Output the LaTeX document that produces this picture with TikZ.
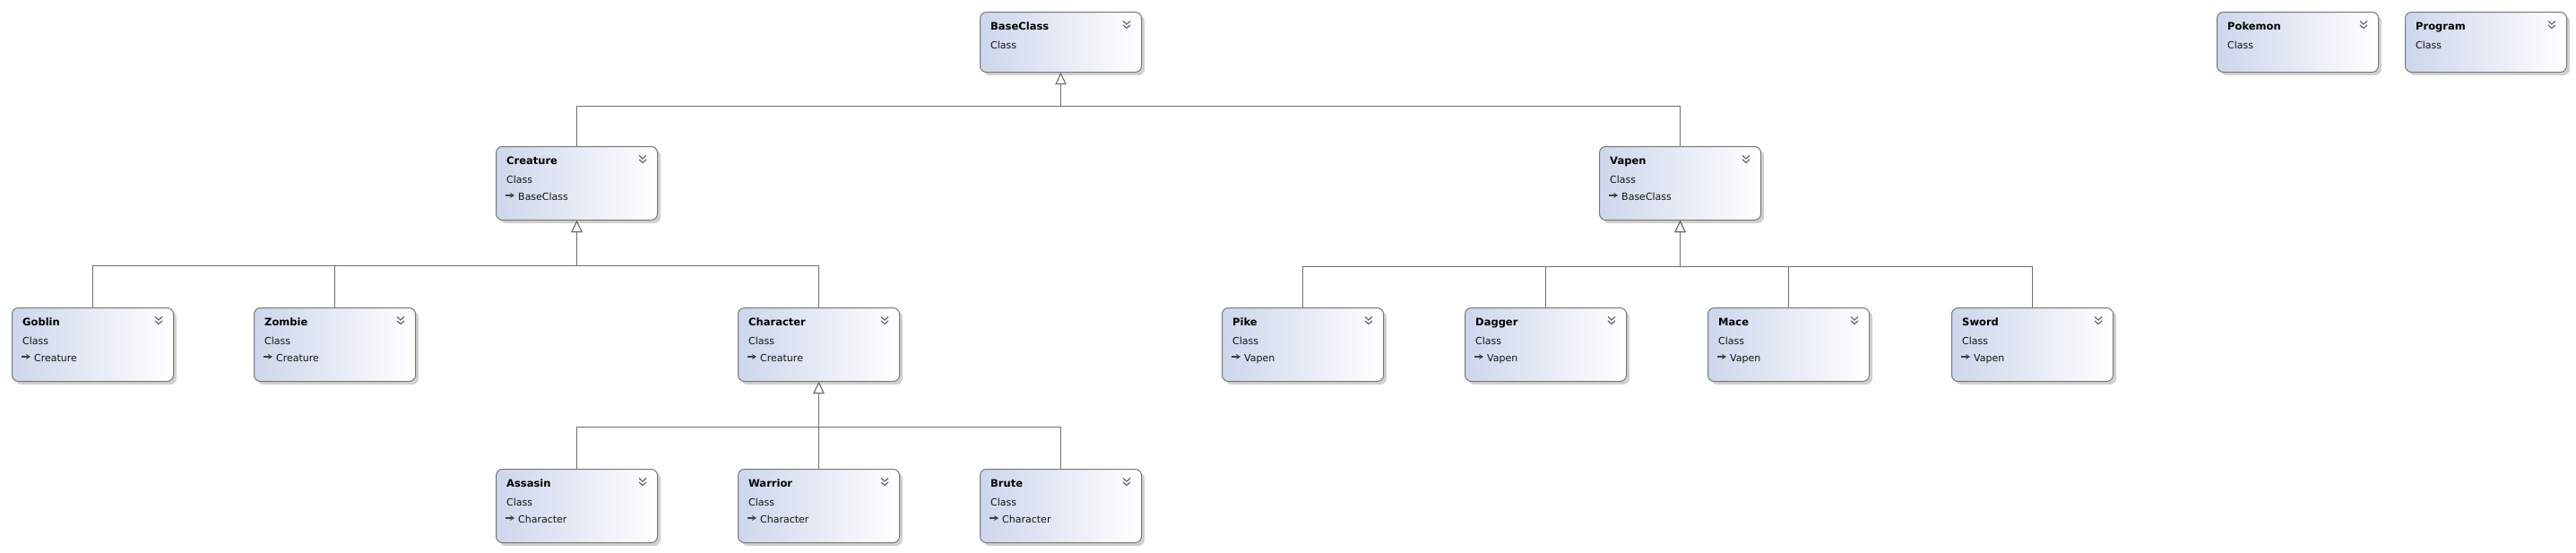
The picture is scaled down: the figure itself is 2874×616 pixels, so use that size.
\documentclass[tikz,border=0pt]{standalone}
\usepackage{fontspec}
\setmainfont{DejaVu Sans}
\usetikzlibrary{arrows.meta,shadows,calc}
\definecolor{boxborder}{RGB}{120,120,110}
\definecolor{boxleft}{RGB}{205,214,236}
\definecolor{linegray}{RGB}{112,112,102}
\definecolor{txt}{RGB}{20,20,20}
\tikzset{
  clsbox/.style={draw=boxborder, line width=1pt, rounded corners=7pt,
    left color=boxleft, right color=white, minimum width=180pt, inner sep=0pt,
    drop shadow={shadow xshift=3.5pt, shadow yshift=-3.5pt, fill=black, opacity=0.18}},
  ttl/.style={font=\fontsize{11.5}{13}\selectfont\bfseries, text=black, inner sep=0pt, anchor=base west},
  sub/.style={font=\fontsize{11}{13}\selectfont, text=txt, inner sep=0pt, anchor=base west},
  inh/.style={draw=linegray, line width=1pt, -{Triangle[open, length=13pt, width=12pt, fill=white]}},
  chev/.style={draw=black!60, line width=1.2pt},
  iarrow/.style={draw=black!75, line width=1.4pt, -{Stealth[length=5pt,width=6pt]}}
}
\newcommand\umlclass[5]{%
  \node[clsbox, minimum height=#4pt, anchor=north west] (#1) at (#2,#3) {};
  \node[ttl] (#1-title) at ($(#1.north west)+(12,20)$) {#5};
  \node[sub] (#1-kind) at ($(#1.north west)+(12,41)$) {Class};
  \draw[chev] ($(#1.north east)+(-21,10.5)$) -- ++(4,3.5) -- ++(4,-3.5);
  \draw[chev] ($(#1.north east)+(-21,15)$) -- ++(4,3.5) -- ++(4,-3.5);
}
\newcommand\umlsub[6]{%
  \umlclass{#1}{#2}{#3}{82}{#4}
  \draw[iarrow] ($(#1.north west)+(11,55)$) -- ++(10,0);
  \node[sub] (#1-parent) at ($(#1.north west)+(25,60)$) {#5};
  \draw[inh] (#1.north) |- (#6) -- (#5.south);
}
\begin{document}
\begin{tikzpicture}[x=1pt,y=-1pt]
\useasboundingbox (0,0) rectangle (2874,616);
\fill[white] (0,0) rectangle (2874,616);
% row 1
\umlclass{BaseClass}{1093}{13}{67}{BaseClass}
\umlclass{Pokemon}{2473}{13}{67}{Pokemon}
\umlclass{Program}{2683}{13}{67}{Program}
\path (BaseClass.south) ++(0,37) coordinate (busBase);
% row 2
\umlsub{Creature}{553}{163}{Creature}{BaseClass}{busBase}
\umlsub{Vapen}{1784}{163}{Vapen}{BaseClass}{busBase}
\path (Creature.south) ++(0,50) coordinate (busCreature);
\path (Vapen.south) ++(0,51) coordinate (busVapen);
% row 3
\umlsub{Goblin}{13}{343}{Goblin}{Creature}{busCreature}
\umlsub{Zombie}{283}{343}{Zombie}{Creature}{busCreature}
\umlsub{Character}{823}{343}{Character}{Creature}{busCreature}
\umlsub{Pike}{1363}{343}{Pike}{Vapen}{busVapen}
\umlsub{Dagger}{1634}{343}{Dagger}{Vapen}{busVapen}
\umlsub{Mace}{1905}{343}{Mace}{Vapen}{busVapen}
\umlsub{Sword}{2177}{343}{Sword}{Vapen}{busVapen}
\path (Character.south) ++(0,50) coordinate (busCharacter);
% row 4
\umlsub{Assasin}{553}{523}{Assasin}{Character}{busCharacter}
\umlsub{Warrior}{823}{523}{Warrior}{Character}{busCharacter}
\umlsub{Brute}{1093}{523}{Brute}{Character}{busCharacter}
\end{tikzpicture}
\end{document}
